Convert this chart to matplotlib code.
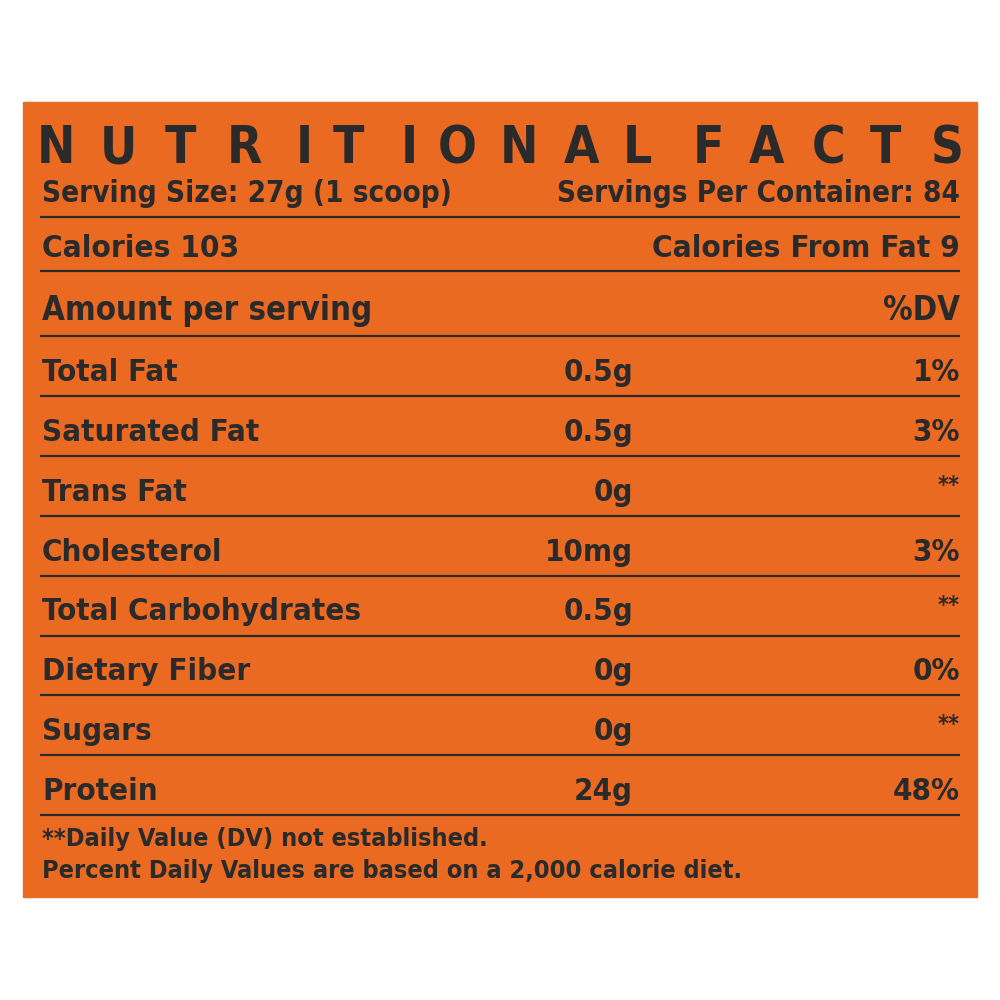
#!/usr/bin/env python3

import matplotlib
matplotlib.use("Agg")
import matplotlib.pyplot as plt
from matplotlib import font_manager
from matplotlib.textpath import TextPath

# label content
title = "NUTRITIONAL FACTS"
serving_size = "Serving Size: 27g (1 scoop)"
servings_per = "Servings Per Container: 84"
calories = "Calories 103"
calories_fat = "Calories From Fat 9"
header_left = "Amount per serving"
header_right = "%DV"
nutrients = ["Total Fat", "Saturated Fat", "Trans Fat", "Cholesterol",
             "Total Carbohydrates", "Dietary Fiber", "Sugars", "Protein"]
amounts = ["0.5g", "0.5g", "0g", "10mg", "0.5g", "0g", "0g", "24g"]
dv = ["1%", "3%", "**", "3%", "**", "0%", "**", "48%"]
footnotes = ["**Daily Value (DV) not established.",
             "Percent Daily Values are based on a 2,000 calorie diet."]

orange = "#EA6A22"
ink = "#2A2A2A"
DPI = 100

# pick the narrowest bold face that is installed
stretch_rank = {"ultra-condensed": 0, "extra-condensed": 1, "condensed": 2,
                "semi-condensed": 3}
narrow = []
for f in font_manager.fontManager.ttflist:
    if "CJK" in f.name or f.style != "normal":
        continue
    rank = stretch_rank.get(f.stretch)
    if rank is None:
        if "ExtraCondensed" in f.name or "Extra Condensed" in f.name:
            rank = 1
        elif "Condensed" in f.name or "Narrow" in f.name:
            rank = 2
        else:
            continue
    w = f.weight if isinstance(f.weight, int) else 700
    narrow.append((rank, abs(w - 750), f.fname))
narrow.sort()
if narrow:
    fp = font_manager.FontProperties(fname=narrow[0][2])
else:
    fp = font_manager.FontProperties(family="DejaVu Sans", weight="bold")

cap_ratio = TextPath((0, 0), "H", size=100, prop=fp).get_extents().height / 100

fig = plt.figure(figsize=(10, 10), dpi=DPI)
ax = fig.add_axes([0, 0, 1, 1])
ax.set_xlim(0, 1000)
ax.set_ylim(1000, 0)
ax.axis("off")


def fit(strings, cap_px, max_w, give=0.5):
    # size from the wanted cap height, shrunk part way towards the width
    # of the reference text (the face here is wider than the original)
    size = cap_px * 72 / DPI / cap_ratio
    widest = max(TextPath((0, 0), s, size=size, prop=fp).get_extents().width
                 for s in strings) * DPI / 72
    return size * min(1.0, max_w / widest) ** give


def put(x, y, s, size, ha="left"):
    ax.text(x, y, s, fontproperties=fp, fontsize=size, color=ink,
            ha=ha, va="baseline")


ax.add_patch(plt.Rectangle((23, 102), 954, 795, color=orange, zorder=0))

left, mid, right = 42, 633, 960

# title, letters spread over the full width
letter_x = [56, 118, 180, 244, 304, 348, 409, 457, 519, 582, 637, None,
            708, 767, 829, 885, 947]
title_size = fit(["N"], 48, 30, give=1.0)
for ch, x in zip(title, letter_x):
    if ch != " ":
        put(x, 163, ch, title_size, ha="center")

# rules
rules = [217, 271, 336] + [336 + 59.9 * (i + 1) for i in range(len(nutrients))]
for y in rules:
    ax.plot([40, 960], [y, y], color=ink, lw=1.6, solid_capstyle="butt")

s = fit([serving_size, servings_per], 23, 380)
put(left, 202, serving_size, s)
put(right, 202, servings_per, s, ha="right")
s = fit([calories_fat], 27, 257)
put(left, 257, calories, s)
put(right, 257, calories_fat, s, ha="right")
s = fit([header_left], 28, 281)
put(left, 320, header_left, s)
put(right, 320, header_right, s, ha="right")

name_size = fit(nutrients, 26, 276)
val_size = fit(amounts + dv, 26, 72)
for i, (name, amt, pct) in enumerate(zip(nutrients, amounts, dv)):
    base = rules[3 + i] - 15
    put(left, base, name, name_size)
    put(mid, base, amt, val_size, ha="right")
    if pct == "**":
        put(right, base - 9, pct, val_size * 0.75, ha="right")
    else:
        put(right, base, pct, val_size, ha="right")

foot_size = fit(footnotes, 21, 606)
for i, line in enumerate(footnotes):
    put(left, 846 + 32 * i, line, foot_size)

fig.savefig("out.png", dpi=DPI, facecolor="white")
